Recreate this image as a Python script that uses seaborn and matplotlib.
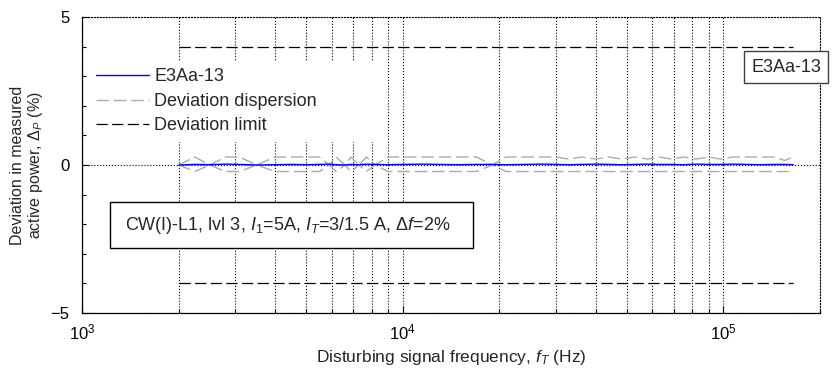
import numpy as np
import pandas as pd
import matplotlib
matplotlib.use("Agg")
import matplotlib.pyplot as plt
import seaborn as sns
from matplotlib.ticker import LogLocator, MultipleLocator, NullFormatter, FixedLocator
from matplotlib.lines import Line2D
from matplotlib.patches import Rectangle

# ---------------- data ----------------
freq = [2000, 2250, 2500, 2800, 3100, 3500, 4000, 4500, 5000, 5500,
        5900, 6200, 6600, 6900, 7300, 7700, 8200, 9000, 10000, 11500,
        13000, 15000, 17000, 19000, 21000, 24000, 27000, 30000, 33000, 36000,
        40000, 44000, 48000, 53000, 58000, 63000, 69000, 75000, 82000, 90000,
        98000, 107000, 118000, 130000, 145000, 155000, 165000]
measured = [0.00, 0.02, 0.01, 0.03, 0.02, 0.00, 0.01, 0.02, 0.01, 0.02,
            0.03, 0.01, 0.00, 0.02, 0.01, 0.03, 0.02, 0.01, 0.02, 0.03,
            0.02, 0.01, 0.02, 0.02, 0.01, 0.02, 0.03, 0.02, 0.01, 0.02,
            0.03, 0.02, 0.01, 0.02, 0.03, 0.02, 0.02, 0.01, 0.03, 0.02,
            0.02, 0.03, 0.02, 0.01, 0.02, 0.02, 0.01]
disp_upper = [0.00, 0.27, 0.00, 0.27, 0.27, 0.00, 0.27, 0.27, 0.27, 0.27,
              0.00, 0.27, 0.00, 0.27, 0.00, 0.27, 0.00, 0.27, 0.27, 0.27,
              0.27, 0.27, 0.27, 0.00, 0.27, 0.27, 0.27, 0.27, 0.20, 0.27,
              0.20, 0.27, 0.20, 0.27, 0.20, 0.27, 0.20, 0.27, 0.20, 0.27,
              0.20, 0.27, 0.27, 0.27, 0.27, 0.15, 0.27]
disp_lower = [0.00, -0.22, 0.00, -0.22, -0.22, 0.00, -0.22, -0.22, -0.22, -0.22,
              0.00, -0.22, 0.00, -0.22, 0.00, -0.22, 0.00, -0.22, -0.22, -0.22,
              -0.22, -0.22, -0.22, 0.00, -0.22, -0.22, -0.22, -0.22, -0.22, -0.22,
              -0.22, -0.22, -0.22, -0.22, -0.22, -0.22, -0.22, -0.22, -0.22, -0.22,
              -0.22, -0.22, -0.22, -0.22, -0.22, -0.22, -0.22]
limit_freq = [2000, 165000]
limit_upper = [4, 4]
limit_lower = [-4, -4]

series_label = "E3Aa-13"
legend_labels = ["E3Aa-13", "Deviation dispersion", "Deviation limit"]
x_ticks = [1e3, 1e4, 1e5]
y_ticks = [-5, 0, 5]

df = pd.DataFrame({"freq": freq, "measured": measured,
                   "upper": disp_upper, "lower": disp_lower})
lim = pd.DataFrame({"freq": limit_freq, "upper": limit_upper, "lower": limit_lower})

# ---------------- style ----------------
sns.set_theme(style="white")
plt.rcParams["font.family"] = ["Liberation Sans", "DejaVu Sans"]
plt.rcParams["mathtext.fontset"] = "custom"
plt.rcParams["mathtext.rm"] = "Liberation Sans"
plt.rcParams["mathtext.it"] = "Liberation Sans:italic"
plt.rcParams["mathtext.bf"] = "Liberation Sans:bold"
plt.rcParams["mathtext.sf"] = "Liberation Sans"

fig = plt.figure(figsize=(8.37, 3.69), dpi=100)
ax = fig.add_axes([82 / 837, 1 - 313 / 369, (820 - 82) / 837, (313 - 17) / 369])

blue = "#0000ff"
gray = "#ababab"
dash = (0, (9, 3.5))

sns.lineplot(data=lim, x="freq", y="upper", ax=ax, color="black", lw=0.9,
             linestyle=dash, estimator=None, sort=False)
sns.lineplot(data=lim, x="freq", y="lower", ax=ax, color="black", lw=0.9,
             linestyle=dash, estimator=None, sort=False)
sns.lineplot(data=df, x="freq", y="upper", ax=ax, color=gray, lw=1.0,
             linestyle=dash, estimator=None, sort=False)
sns.lineplot(data=df, x="freq", y="lower", ax=ax, color=gray, lw=1.0,
             linestyle=dash, estimator=None, sort=False)
sns.lineplot(data=df, x="freq", y="measured", ax=ax, color=blue, lw=1.0,
             estimator=None, sort=False)

ax.set_xscale("log")
ax.set_xlim(1e3, 2e5)
ax.set_ylim(-5, 5)
ax.xaxis.set_major_locator(FixedLocator(x_ticks))
ax.xaxis.set_minor_locator(LogLocator(base=10, subs=np.arange(2, 10), numticks=20))
ax.xaxis.set_minor_formatter(NullFormatter())
ax.yaxis.set_major_locator(FixedLocator(y_ticks))
ax.yaxis.set_minor_locator(MultipleLocator(1))

ax.grid(which="major", axis="both", linestyle=":", color="black", lw=0.8)
ax.grid(which="minor", axis="x", linestyle=":", color="black", lw=0.8)

for s in ["left", "bottom"]:
    ax.spines[s].set_color("black")
    ax.spines[s].set_linewidth(0.9)
for s in ["top", "right"]:
    ax.spines[s].set_color("black")
    ax.spines[s].set_linewidth(0.8)
    ax.spines[s].set_linestyle(":")

ax.tick_params(which="both", direction="in", colors="black", labelsize=12,
               top=False, right=False, bottom=True, left=True)
ax.tick_params(which="major", length=5, width=0.8)
ax.tick_params(which="minor", length=3, width=0.8)
ax.tick_params(axis="x", pad=7)
ax.tick_params(axis="y", pad=9)

ax.set_xlabel("Disturbing signal frequency, $f_T$ (Hz)", fontsize=12.5, labelpad=4)
ax.set_ylabel("Deviation in measured\nactive power, $\\Delta_P$ (%)", fontsize=11.5,
              labelpad=4, linespacing=1.1)

handles = [Line2D([], [], color=blue, lw=1.0),
           Line2D([], [], color=gray, lw=1.0, linestyle=dash),
           Line2D([], [], color="black", lw=0.9, linestyle=dash)]
leg = ax.legend(handles, legend_labels, loc="upper left",
                bbox_to_anchor=(0.011, 0.0, 0.40, 0.848), mode="expand",
                borderaxespad=0, fontsize=13, handlelength=2.9, handletextpad=0.3,
                labelspacing=0.42, borderpad=0.35, frameon=True, fancybox=False,
                framealpha=1, facecolor="white", edgecolor="white")

# annotation boxes
ax.add_patch(Rectangle((0.0379, 0.2196), 0.4919, 0.1554, transform=ax.transAxes,
                       facecolor="white", edgecolor="black", lw=1.0, zorder=5))
ax.text(0.2785, 0.297, "CW(I)-L1, lvl 3, $I_1$=5A, $I_T$=3/1.5 A, $\\Delta f$=2%",
        transform=ax.transAxes, ha="center", va="center", fontsize=13, zorder=6)
ax.add_patch(Rectangle((0.897, 0.776), 0.114, 0.108, transform=ax.transAxes,
                       facecolor="white", edgecolor="#404040", lw=1.0, zorder=5,
                       clip_on=False))
ax.text(0.955, 0.830, series_label, transform=ax.transAxes, ha="center",
        va="center", fontsize=13, zorder=6)

fig.savefig("out.png", dpi=100)
